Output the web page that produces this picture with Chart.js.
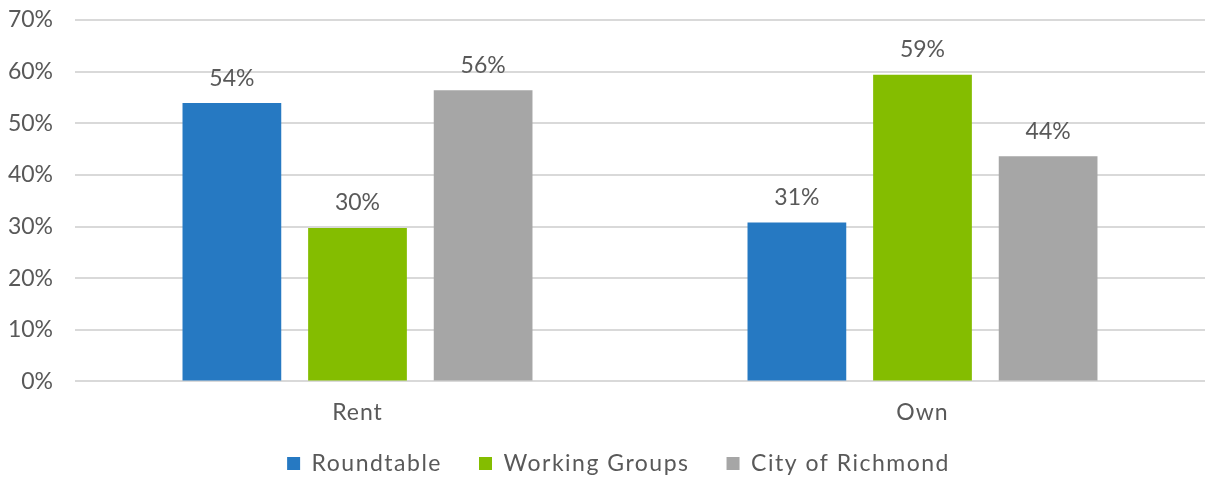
<!DOCTYPE html>
<html>
<head>
<meta charset="utf-8">
<script src="https://cdn.jsdelivr.net/npm/chart.js@4"></script>
<style>
  html, body { margin: 0; padding: 0; background: #fff; }
  #wrap { width: 1205px; height: 480px; }
</style>
</head>
<body>
<div id="wrap"><canvas id="housingChart"></canvas></div>
<script>
// dados
const categories = ['Rent', 'Own'];
const seriesNames = ['Roundtable', 'Working Groups', 'City of Richmond'];
const roundtable = [53.9, 30.8];
const workingGroups = [29.7, 59.4];
const cityOfRichmond = [56.4, 43.6];
const yTicks = [0, 10, 20, 30, 40, 50, 60, 70];
const seriesColors = ['#2679C2', '#84BD00', '#A6A6A6'];

const fontFamily = "Lato, 'Open Sans', sans-serif";
const textColor = '#595959';

// rótulos de valor acima das barras
const valueLabels = {
    id: 'valueLabels',
    afterDatasetsDraw(chart) {
        const ctx = chart.ctx;
        ctx.save();
        ctx.font = '23px ' + fontFamily;
        ctx.fillStyle = textColor;
        ctx.textAlign = 'center';
        ctx.textBaseline = 'middle';
        chart.data.datasets.forEach(function(ds, i) {
            chart.getDatasetMeta(i).data.forEach(function(bar, j) {
                ctx.fillText(Math.round(ds.data[j]) + '%', bar.x, bar.y - 25);
            });
        });
        ctx.restore();
    }
};

// texto mais largo na legenda e no eixo x (a fonte original é mais larga)
const wideText = {
    id: 'wideText',
    afterInit(chart) {
        const legend = chart.legend;
        const fit = legend.fit;
        legend.fit = function() {
            chart.ctx.save();
            chart.ctx.letterSpacing = '1.5px';
            fit.call(this);
            chart.ctx.restore();
            this.height = 41;
        };
        legend.draw = function() {
            const ctx = chart.ctx;
            ctx.save();
            ctx.letterSpacing = '1.5px';
            // centraliza os itens na caixa da legenda (um pouco à direita, como no original)
            const itemMiddle = this.top + this.options.labels.padding + 11.5;
            ctx.translate(16, this.top + this.height / 2 - itemMiddle);
            this._draw();
            ctx.restore();
        };
    },
    beforeLayout(chart) {
        const xScale = chart.scales.x;
        if (!xScale || xScale._wide) return;
        const draw = xScale.draw;
        xScale.draw = function(area) {
            chart.ctx.save();
            chart.ctx.letterSpacing = '1px';
            draw.call(this, area);
            chart.ctx.restore();
        };
        xScale._wide = true;
    }
};

const allSeries = [roundtable, workingGroups, cityOfRichmond];

new Chart(document.getElementById('housingChart'), {
    type: 'bar',
    data: {
        labels: categories,
        datasets: allSeries.map(function(values, i) {
            return {
                label: seriesNames[i],
                data: values,
                backgroundColor: seriesColors[i],
                categoryPercentage: 0.667,
                barPercentage: 0.786
            };
        })
    },
    options: {
        responsive: true,
        maintainAspectRatio: false,
        animation: false,
        layout: { padding: { left: 0, right: 0, top: 0, bottom: -4 } },
        plugins: {
            tooltip: { enabled: false },
            legend: {
                position: 'bottom',
                labels: {
                    boxWidth: 13,
                    boxHeight: 13,
                    padding: 37,
                    color: textColor,
                    font: { family: fontFamily, size: 23 }
                }
            }
        },
        scales: {
            x: {
                grid: { display: false, drawTicks: false },
                border: { display: false },
                ticks: { color: textColor, font: { family: fontFamily, size: 23 }, padding: 17 }
            },
            y: {
                min: yTicks[0],
                max: yTicks[yTicks.length - 1],
                afterFit: function(scale) {
                    scale.width = 75;
                    scale.paddingTop = 20;
                },
                afterBuildTicks: function(scale) {
                    scale.ticks = yTicks.map(function(v) { return { value: v }; });
                },
                ticks: {
                    color: textColor,
                    padding: 22,
                    font: { family: fontFamily, size: 23 },
                    callback: function(v) { return v + '%'; }
                },
                grid: { color: '#D9D9D9', lineWidth: 2, drawTicks: false },
                border: { display: false }
            }
        }
    },
    plugins: [valueLabels, wideText]
});
</script>
</body>
</html>
